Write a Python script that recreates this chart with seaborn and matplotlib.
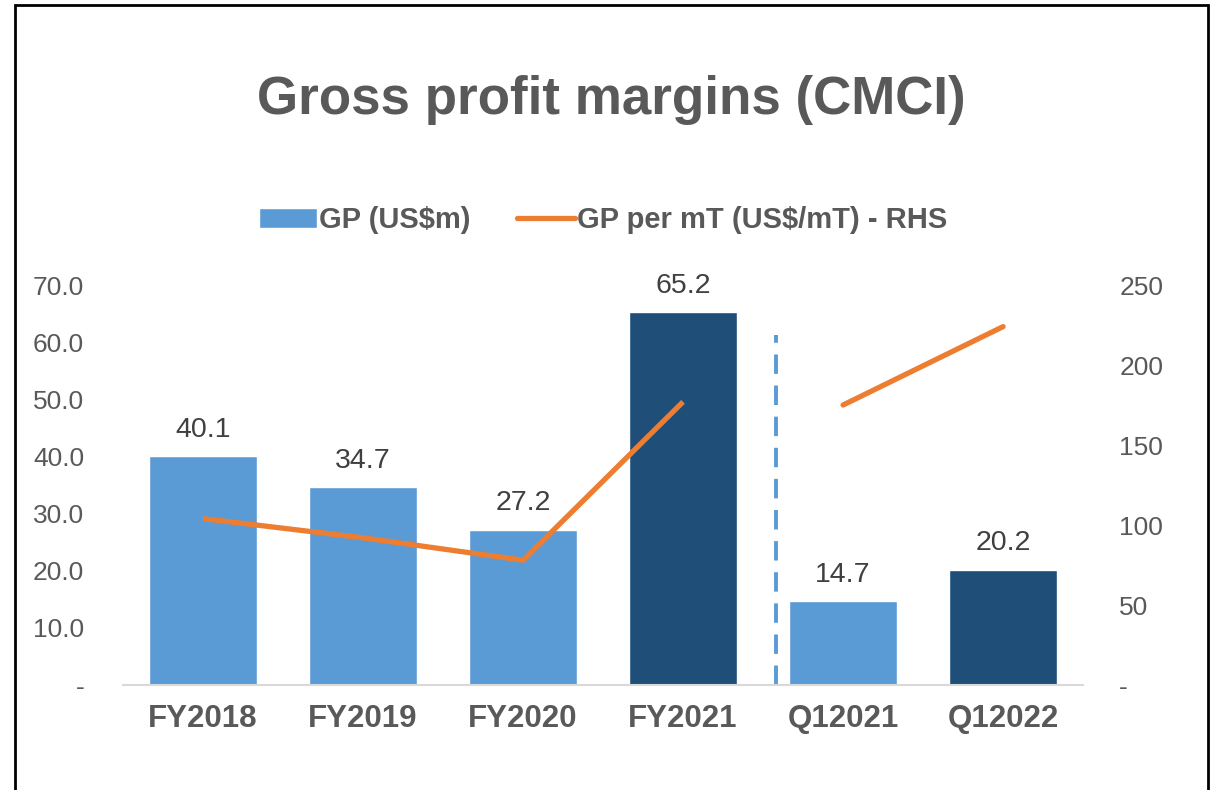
import pandas as pd
import matplotlib
matplotlib.use("Agg")
import matplotlib.pyplot as plt
import seaborn as sns
from matplotlib.patches import Patch, Rectangle
from matplotlib.lines import Line2D

# -----------------------------
# Data
# -----------------------------
periods = ["FY2018", "FY2019", "FY2020", "FY2021", "Q12021", "Q12022"]
gp_usdm = [40.1, 34.7, 27.2, 65.2, 14.7, 20.2]
gp_per_mt = [104, 92, 78, 177, 175, 224]
segment = ["FY", "FY", "FY", "FY", "Q1", "Q1"]
bar_colors = ["#5B9BD5", "#5B9BD5", "#5B9BD5", "#1F4E79", "#5B9BD5", "#1F4E79"]

df = pd.DataFrame({"period": periods, "gp": gp_usdm, "gp_mt": gp_per_mt, "segment": segment})
df["x"] = range(len(df))

sns.set_style("white")
plt.rcParams["font.family"] = ["Liberation Sans", "DejaVu Sans"]

fig = plt.figure(figsize=(12.23, 7.90), dpi=100)
ax = fig.add_axes([0.1006, 0.1329, 0.785, 0.5063])

sns.barplot(data=df, x="period", y="gp", hue="period", palette=bar_colors,
            width=0.675, legend=False, ax=ax, saturation=1)

# value labels
for i, v in enumerate(gp_usdm):
    ax.text(i, v + 2.3, f"{v:.1f}", ha="center", va="bottom", fontsize=20.5, color="#404040")

# separator between full-year and quarterly
ax.vlines(3.58, 0, 61.3, colors="#5B9BD5", linewidth=2.8, linestyles=(0, (5, 3)))

ax.set_xlim(-0.5, 5.5)
ax.set_ylim(0, 70)
ax.set_yticks(range(0, 71, 10))
ax.set_yticklabels(["-"] + [f"{t:.1f}" for t in range(10, 71, 10)])
ax.set_xlabel("")
ax.set_ylabel("")
ax.tick_params(axis="y", length=0, labelsize=19, labelcolor="#595959", pad=28)
ax.tick_params(axis="x", length=0, labelsize=22.5, labelcolor="#595959", pad=14)
for lbl in ax.get_xticklabels():
    lbl.set_fontweight("bold")
for s in ["top", "left", "right"]:
    ax.spines[s].set_visible(False)
ax.spines["bottom"].set_color("#D9D9D9")
ax.spines["bottom"].set_linewidth(1.5)

# secondary axis
ax2 = ax.twinx()
for seg, grp in df.groupby("segment"):
    sns.lineplot(data=grp, x="x", y="gp_mt", color="#ED7D31", linewidth=3.8, ax=ax2,
                 solid_capstyle="round" if seg == "Q1" else "butt")
ax2.set_ylim(0, 250)
ax2.set_yticks(range(0, 251, 50))
ax2.set_yticklabels(["-"] + [str(t) for t in range(50, 251, 50)])
ax2.set_ylabel("")
ax2.tick_params(axis="y", length=0, labelsize=19, labelcolor="#595959", pad=26)
for s in ["top", "left", "right", "bottom"]:
    ax2.spines[s].set_visible(False)

# title and legend
fig.text(0.5, 0.873, "Gross profit margins (CMCI)", ha="center", va="center",
         fontsize=38.2, fontweight="bold", color="#595959")
handles = [Patch(facecolor="#5B9BD5", label="GP (US$m)"),
           Line2D([0], [0], color="#ED7D31", linewidth=3.8, label="GP per mT (US$/mT) - RHS")]
fig.legend(handles=handles, loc="center", bbox_to_anchor=(0.493, 0.7215), ncol=2, frameon=False,
           prop={"size": 21, "weight": "bold"}, labelcolor="#595959", handlelength=2.0,
           handletextpad=0.05, columnspacing=1.6)

# outer border
fig.patches.append(Rectangle((15 / 1223, -0.02), (1208 - 15) / 1223, 1.02 - 5 / 790,
                             transform=fig.transFigure, fill=False, edgecolor="black", linewidth=2))

plt.savefig("out.png", dpi=100)
